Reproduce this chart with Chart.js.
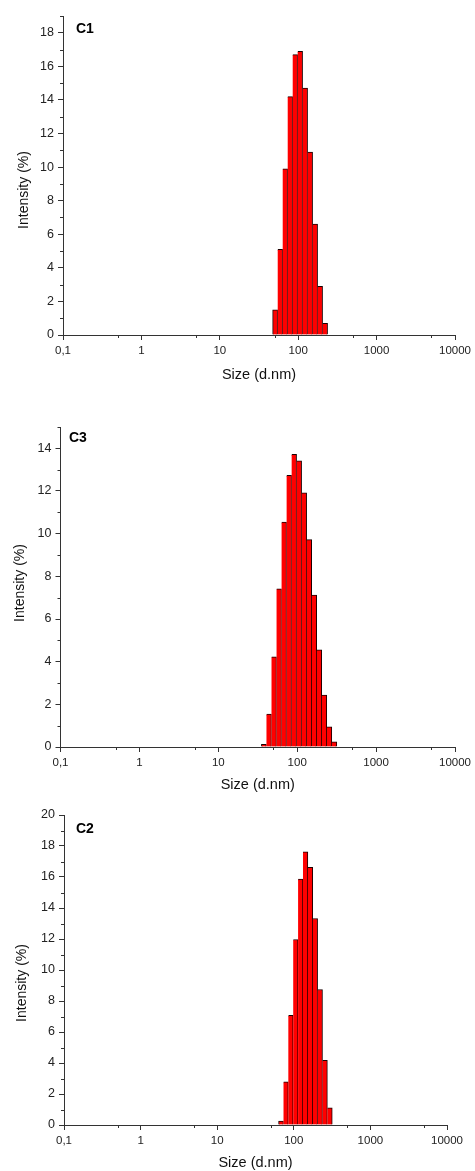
<!DOCTYPE html>
<html>
<head>
<meta charset="utf-8">
<script src="https://cdn.jsdelivr.net/npm/chart.js@4.4.1/dist/chart.umd.min.js"></script>
<style>
  html, body { margin: 0; padding: 0; background: #ffffff; }
  body { width: 475px; height: 1171px; position: relative; overflow: hidden; }
  canvas { position: absolute; left: 0; }
</style>
</head>
<body>
<canvas id="c1" width="475" height="395" style="top:0px"></canvas>
<canvas id="c3" width="475" height="405" style="top:395px"></canvas>
<canvas id="c2" width="475" height="371" style="top:800px"></canvas>
<script>
// ---- data ----
const c1Sizes = [50.75, 58.77, 68.06, 78.82, 91.28, 105.7, 122.4, 141.8, 164.2, 190.1, 220.2];
const c1Intensity = [1.5, 5.1, 9.9, 14.2, 16.7, 16.9, 14.7, 10.9, 6.6, 2.9, 0.7];

const c3Sizes = [37.84, 43.82, 50.75, 58.77, 68.06, 78.82, 91.28, 105.7, 122.4, 141.8, 164.2, 190.1, 220.2, 255.0, 295.3];
const c3Intensity = [0.13, 1.54, 4.23, 7.42, 10.54, 12.73, 13.72, 13.42, 11.92, 9.72, 7.12, 4.55, 2.43, 0.94, 0.24];

const c2Sizes = [68.06, 78.82, 91.28, 105.7, 122.4, 141.8, 164.2, 190.1, 220.2, 255.0, 295.3];
const c2Intensity = [0.26, 2.78, 7.08, 11.97, 15.86, 17.62, 16.62, 13.32, 8.74, 4.18, 1.10];

const xTicks = [0.1, 1, 10, 100, 1000, 10000];
const xTickLabels = ['0,1', '1', '10', '100', '1000', '10000'];
const xMinorTicks = [0.5, 5, 50, 500, 5000];
const c1YTicks = [0, 2, 4, 6, 8, 10, 12, 14, 16, 18];
const c3YTicks = [0, 2, 4, 6, 8, 10, 12, 14];
const c2YTicks = [0, 2, 4, 6, 8, 10, 12, 14, 16, 18, 20];
const c1YMinor = [1, 3, 5, 7, 9, 11, 13, 15, 17, 19];
const c3YMinor = [1, 3, 5, 7, 9, 11, 13, 15];
const c2YMinor = [1, 3, 5, 7, 9, 11, 13, 15, 17, 19];

const xTitle = 'Size (d.nm)';
const yTitle = 'Intensity (%)';

const FONT = '"Liberation Sans", Arial, sans-serif';
const AXIS = '#333333';

const decor = {
  id: 'decor',
  afterDraw(chart, args, o) {
    const ctx = chart.ctx;
    const xs = chart.scales.x, ys = chart.scales.y;
    const a = chart.chartArea;
    ctx.save();
    ctx.strokeStyle = AXIS;
    ctx.lineWidth = 1;
    ctx.beginPath();
    o.xMinor.forEach(v => {
      const px = Math.round(xs.getPixelForValue(v)) + 0.5;
      ctx.moveTo(px, a.bottom); ctx.lineTo(px, a.bottom + 3);
    });
    o.yMinor.forEach(v => {
      const py = Math.round(ys.getPixelForValue(v)) + 0.5;
      ctx.moveTo(a.left - 3, py); ctx.lineTo(a.left, py);
    });
    ctx.stroke();

    ctx.fillStyle = '#000';
    ctx.font = 'bold 14px ' + FONT;
    ctx.textAlign = 'left';
    ctx.textBaseline = 'alphabetic';
    ctx.fillText(o.label, a.left + o.labelDx, a.top + o.labelDy);

    ctx.fillStyle = '#111';
    ctx.font = '14.5px ' + FONT;
    ctx.textAlign = 'center';
    ctx.textBaseline = 'middle';
    ctx.fillText(xTitle, (a.left + a.right) / 2, a.bottom + o.xTitleDy);
    ctx.translate(o.yTitleX, o.yTitleY);
    ctx.rotate(-Math.PI / 2);
    ctx.font = '14px ' + FONT;
    ctx.fillText(yTitle, 0, 0);
    ctx.restore();
  }
};

function makeChart(id, sizes, values, cfg) {
  const data = sizes.map((s, i) => ({ x: s, y: values[i] }));
  return new Chart(document.getElementById(id), {
    type: 'bar',
    data: {
      datasets: [{
        data: data,
        backgroundColor: '#ff0000',
        borderColor: '#1a0000',
        borderWidth: (c) => ({ top: 1, right: 1, bottom: 0, left: c.dataIndex === 0 ? 1 : 0 }),
        barPercentage: 1,
        categoryPercentage: 1
      }]
    },
    options: {
      responsive: false,
      animation: false,
      devicePixelRatio: 1,
      layout: { padding: { top: cfg.padTop, right: cfg.padRight, left: 0, bottom: 0 } },
      plugins: {
        legend: { display: false },
        tooltip: { enabled: false },
        decor: cfg.decor
      },
      scales: {
        x: {
          type: 'logarithmic',
          min: 0.1,
          max: 10000,
          offset: false,
          grid: { offset: false, drawOnChartArea: false, drawTicks: true, tickLength: 5, tickColor: AXIS },
          border: { display: true, color: AXIS, width: 1 },
          afterBuildTicks: (s) => { s.ticks = xTicks.map(v => ({ value: v })); },
          afterFit: (s) => { s.height = cfg.xHeight; },
          ticks: {
            autoSkip: false, maxRotation: 0, minRotation: 0, padding: 4,
            color: '#222', font: { family: FONT, size: 11.5 },
            callback: (v, i) => xTickLabels[i]
          }
        },
        y: {
          type: 'linear',
          min: 0,
          max: cfg.yMax,
          grid: { drawOnChartArea: false, drawTicks: true, tickLength: 5, tickColor: AXIS },
          border: { display: true, color: AXIS, width: 1 },
          afterBuildTicks: (s) => { s.ticks = cfg.yTicks.map(v => ({ value: v })); },
          afterFit: (s) => { s.width = cfg.yWidth; },
          ticks: {
            autoSkip: false, padding: 4,
            color: '#222', font: { family: FONT, size: 12.5 }
          }
        }
      }
    },
    plugins: [decor]
  });
}

makeChart('c1', c1Sizes, c1Intensity, {
  padTop: 16, padRight: 18, xHeight: 60, yWidth: 63, yMax: 19, yTicks: c1YTicks,
  decor: { label: 'C1', labelDx: 13, labelDy: 17, xTitleDy: 40, yTitleX: 24, yTitleY: 190,
           xMinor: xMinorTicks, yMinor: c1YMinor }
});
makeChart('c3', c3Sizes, c3Intensity, {
  padTop: 32, padRight: 20, xHeight: 53, yWidth: 60.5, yMax: 15, yTicks: c3YTicks,
  decor: { label: 'C3', labelDx: 8.5, labelDy: 15, xTitleDy: 38, yTitleX: 20, yTitleY: 188,
           xMinor: xMinorTicks, yMinor: c3YMinor }
});
makeChart('c2', c2Sizes, c2Intensity, {
  padTop: 15, padRight: 28, xHeight: 46, yWidth: 64, yMax: 20, yTicks: c2YTicks,
  decor: { label: 'C2', labelDx: 12, labelDy: 18, xTitleDy: 38, yTitleX: 22, yTitleY: 183,
           xMinor: xMinorTicks, yMinor: c2YMinor }
});
</script>
</body>
</html>
